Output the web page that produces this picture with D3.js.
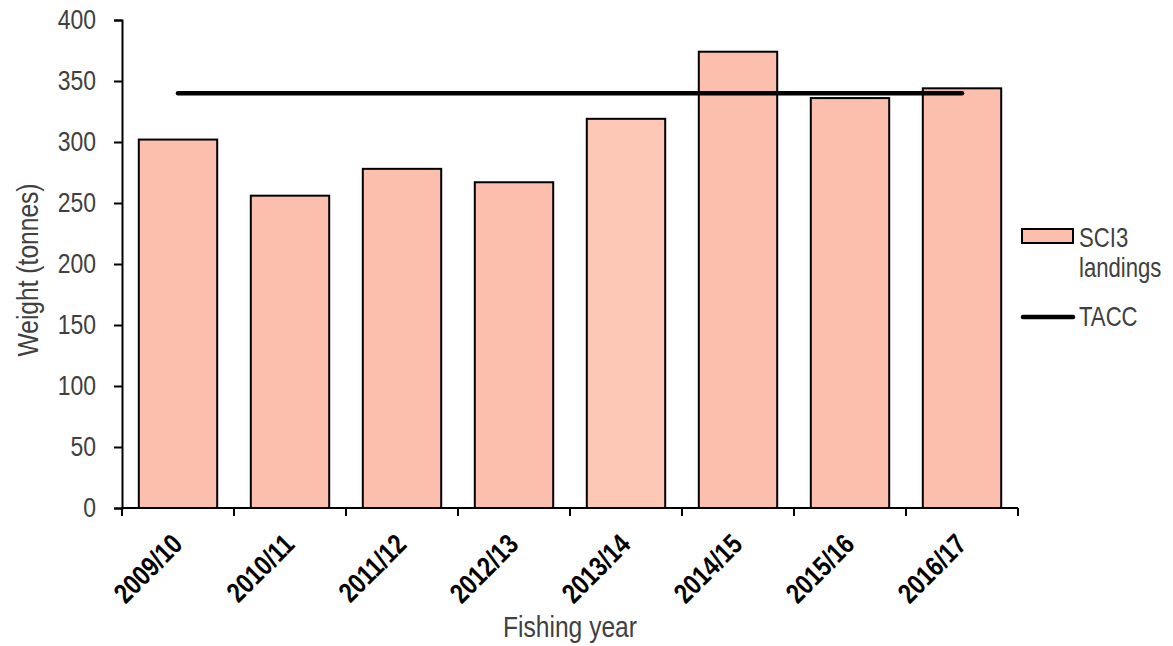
<!DOCTYPE html>
<html>
<head>
<meta charset="utf-8">
<script src="https://cdn.jsdelivr.net/npm/d3@7"></script>
<style>
  html, body { margin: 0; padding: 0; background: #fff; }
  svg { display: block; font-family: "Liberation Sans", Arial, sans-serif; }
</style>
</head>
<body>
<svg id="chart" width="1173" height="646"></svg>
<script>
// SCI3 landings by fishing year, with the TACC
const years = ["2009/10", "2010/11", "2011/12", "2012/13", "2013/14", "2014/15", "2015/16", "2016/17"];
const landings = [302, 256, 278, 267, 319, 374, 336, 344];
const tacc = [340, 340, 340, 340, 340, 340, 340, 340];
const barFills = ["#fcbfad", "#fcbfad", "#fcbfad", "#fcbfad", "#fdc7b5", "#fcbfad", "#fcbfad", "#fcbfad"];
const yTicks = [0, 50, 100, 150, 200, 250, 300, 350, 400];

const svg = d3.select("#chart");
const plotLeft = 122, plotRight = 1018, plotTop = 20, plotBottom = 508;
const NARROW = 0.82;   // horizontal squeeze giving a narrow sans face
const GREY = "#404040";

// text squeezed horizontally around its anchor point
function narrowText(parent, tx, ty, str, opts = {}) {
  const g = parent.append("g")
    .attr("transform", `translate(${tx},${ty})` + (opts.rotate ? ` rotate(${opts.rotate})` : ""));
  return g.append("text")
    .attr("transform", `scale(${NARROW},1)`)
    .attr("text-anchor", opts.anchor || "start")
    .attr("dy", opts.dy || null)
    .attr("font-size", opts.size || 26)
    .attr("font-weight", opts.weight || "normal")
    .attr("fill", opts.fill || GREY)
    .text(str);
}

const x = d3.scaleBand().domain(years).range([plotLeft, plotRight]).paddingInner(0.3).paddingOuter(0.15);
const y = d3.scaleLinear().domain([0, 400]).range([plotBottom, plotTop]);

// bars
svg.append("g").selectAll("rect").data(years).join("rect")
  .attr("x", d => x(d))
  .attr("y", (d, i) => y(landings[i]))
  .attr("width", x.bandwidth())
  .attr("height", (d, i) => y(0) - y(landings[i]))
  .attr("fill", (d, i) => barFills[i])
  .attr("stroke", "#000")
  .attr("stroke-width", 2);

// TACC line across band centres
const line = d3.line().x(d => x(d[0]) + x.bandwidth() / 2).y(d => y(d[1]));
svg.append("path")
  .datum(years.map((d, i) => [d, tacc[i]]))
  .attr("d", line)
  .attr("fill", "none")
  .attr("stroke", "#000")
  .attr("stroke-width", 4.5)
  .attr("stroke-linecap", "round");

// y axis
const yPad = 18, yTick = 8;
const yAxis = svg.append("g").attr("transform", `translate(${plotLeft},0)`)
  .call(d3.axisLeft(y).tickValues(yTicks).tickSize(yTick).tickPadding(yPad));
yAxis.select(".domain").attr("stroke", "#000").attr("stroke-width", 2);
yAxis.selectAll(".tick line").attr("stroke", "#000").attr("stroke-width", 2);
yAxis.selectAll(".tick text")
  .attr("font-size", 28).attr("fill", GREY)
  .attr("font-family", "'Liberation Sans', Arial, sans-serif")
  .attr("transform", `scale(${NARROW},1)`)
  .attr("x", -(yTick + yPad) / NARROW);

// x axis: baseline with ticks on the category boundaries
const xAxis = svg.append("g");
xAxis.append("line").attr("x1", plotLeft).attr("x2", plotRight).attr("y1", plotBottom).attr("y2", plotBottom)
  .attr("stroke", "#000").attr("stroke-width", 2);
const bounds = years.map(d => x(d) - x.step() * x.paddingInner() / 2).concat([plotRight]);
xAxis.selectAll("line.tk").data(bounds).join("line").attr("class", "tk")
  .attr("x1", d => d).attr("x2", d => d).attr("y1", plotBottom).attr("y2", plotBottom + 8)
  .attr("stroke", "#000").attr("stroke-width", 2);
years.forEach(d => {
  narrowText(xAxis, x(d) + x.bandwidth() / 2 - 8, plotBottom + 24, d,
    { rotate: -45, anchor: "end", dy: "0.71em", size: 28, weight: "bold", fill: "#000" });
});

// axis titles
narrowText(svg, 570, 637, "Fishing year", { anchor: "middle", size: 30 });
narrowText(svg, 38, 270, "Weight (tonnes)", { anchor: "middle", size: 30, rotate: -90 });

// legend
const lg = svg.append("g");
lg.append("rect").attr("x", 1022).attr("y", 229).attr("width", 51).attr("height", 14)
  .attr("fill", barFills[0]).attr("stroke", "#000").attr("stroke-width", 2);
narrowText(lg, 1079, 247, "SCI3", { size: 27 });
narrowText(lg, 1079, 277, "landings", { size: 27 });
lg.append("line").attr("x1", 1023).attr("x2", 1073).attr("y1", 317).attr("y2", 317)
  .attr("stroke", "#000").attr("stroke-width", 4.5).attr("stroke-linecap", "round");
narrowText(lg, 1079, 326, "TACC", { size: 27 });
</script>
</body>
</html>
